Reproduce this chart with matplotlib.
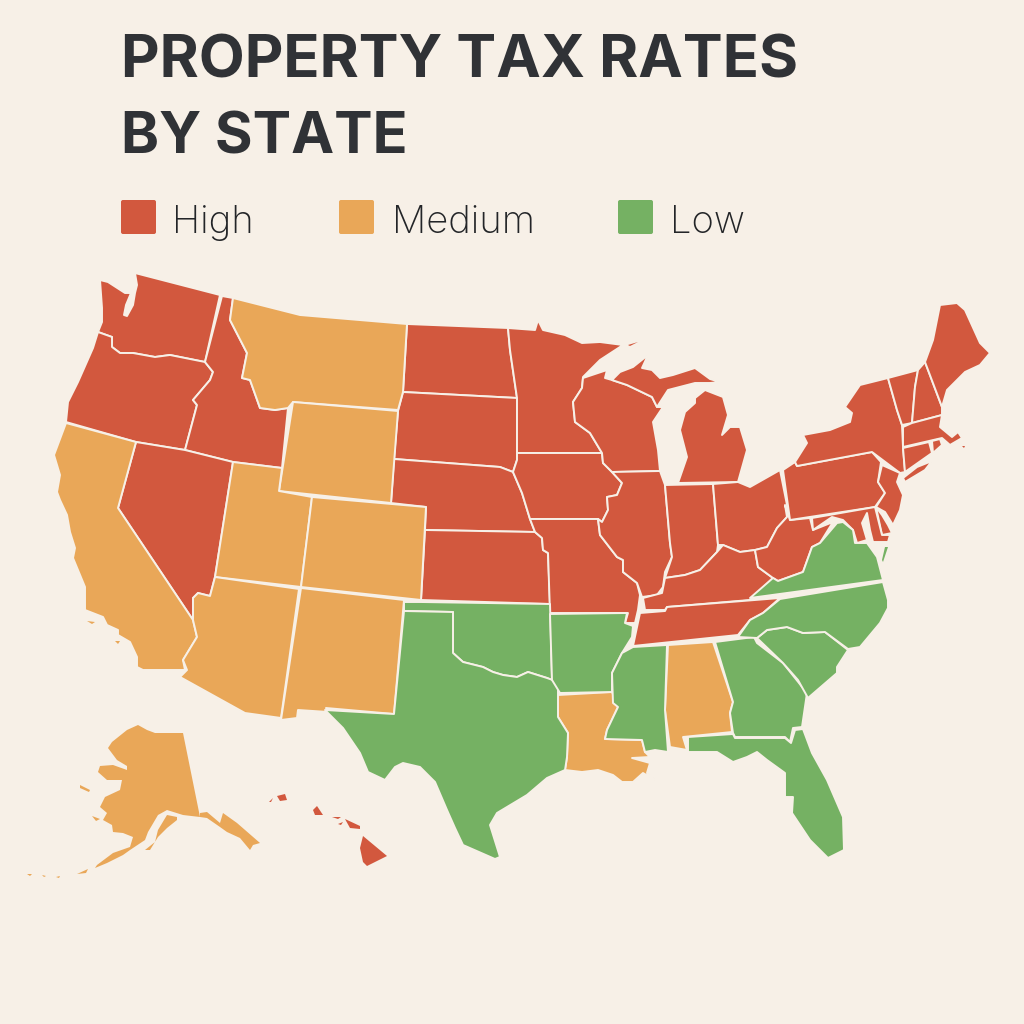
import matplotlib
matplotlib.use("Agg")
import matplotlib.pyplot as plt
from matplotlib.patches import Polygon, FancyBboxPatch

TITLE_LINES = ["PROPERTY TAX RATES", "BY STATE"]
LEVELS = ["High", "Medium", "Low"]
BG = "#F7F0E7"
COLORS = {"High": "#D2583E", "Medium": "#E9A758", "Low": "#75B163"}
TEXT = "#303236"
LABEL_TEXT = "#232528"

# State outlines, in picture pixels
WA = [(135,273),(220,295),(205,362),(170,355),(155,357),(133,353),(120,353),(112,347),(112,337),(98,332),(102,322),(102,308),(100,280),(108,282),(125,293),(131,293),(126,305),(124,315),(127,316),(133,305),(135,293),(137,285)]
OR = [(98,332),(112,337),(112,347),(120,353),(133,353),(155,357),(170,355),(205,362),(213,372),(210,380),(193,400),(197,405),(185,450),(136,442),(66,422),(68,402),(78,382),(93,348)]
ID = [(222,296),(233,298),(230,320),(247,353),(242,378),(250,380),(260,408),(275,410),(288,408),(282,468),(233,462),(185,450),(197,405),(193,400),(210,380),(213,372),(205,362)]
MT = [(233,298),(300,315),(407,324),(403,392),(398,410),(293,402),(288,408),(275,410),(260,408),(250,380),(242,378),(247,353),(230,320)]
WY = [(293,402),(398,411),(391,503),(279,491)]
CA = [(66,423),(136,442),(118,508),(193,620),(197,637),(183,660),(185,670),(143,670),(137,667),(137,657),(130,642),(118,635),(118,630),(107,625),(103,617),(85,610),(85,587),(73,558),(75,548),(70,532),(67,515),(60,500),(57,492),(60,475),(54,455)]
NV = [(136,442),(185,450),(233,462),(215,577),(210,596),(198,593),(193,598),(193,620),(118,508)]
UT = [(233,462),(282,468),(279,491),(312,497),(301,587),(215,577)]
CO = [(312,497),(426,507),(421,600),(301,587)]
AZ = [(215,577),(299,589),(281,718),(245,713),(180,677),(187,670),(183,660),(197,637),(193,620),(193,598),(198,593),(210,596)]
NM = [(301,588),(404,600),(394,714),(326,708),(328,712),(298,710),(297,718),(281,720)]
ND = [(407,324),(508,328),(510,350),(517,398),(403,392)]
SD = [(403,392),(517,398),(517,453),(517,460),(513,472),(500,467),(394,459),(398,411)]
NE = [(394,459),(500,467),(513,472),(522,493),(530,519),(535,532),(425,530),(426,507),(391,503)]
KS = [(425,530),(535,532),(542,538),(543,550),(548,553),(550,604),(421,600)]
OK = [(404,602),(421,602),(550,604),(552,680),(547,678),(528,672),(517,677),(503,675),(493,672),(483,667),(463,662),(453,653),(453,612),(404,611)]
TX = [(404,611),(453,612),(453,653),(463,662),(483,667),(493,672),(503,675),(517,677),(528,672),(547,678),(558,682),(558,717),(568,733),(567,757),(565,770),(547,778),(527,795),(497,813),(490,825),(500,857),(495,859),(463,845),(455,828),(447,810),(435,782),(420,767),(403,763),(395,767),(385,780),(368,772),(360,753),(343,728),(325,710),(394,714)]
MN = [(508,328),(535,330),(538,320),(543,330),(565,335),(582,343),(600,342),(623,345),(600,360),(583,377),(582,388),(573,402),(575,422),(590,433),(602,453),(517,453),(517,398),(510,350)]
IA = [(517,453),(602,453),(603,463),(612,472),(622,483),(617,495),(607,497),(608,510),(602,522),(598,519),(530,519),(522,493),(513,472),(517,460)]
MO = [(530,519),(598,519),(600,535),(617,557),(623,560),(623,572),(637,583),(640,595),(638,610),(635,623),(625,623),(628,613),(550,613),(548,553),(543,550),(542,538),(535,532)]
AR = [(550,614),(627,613),(625,623),(633,626),(632,637),(622,653),(612,673),(612,692),(560,693),(552,680)]
LA = [(558,695),(612,692),(618,707),(607,730),(605,739),(642,740),(645,752),(650,757),(632,758),(650,763),(647,773),(658,782),(643,773),(633,782),(622,782),(613,775),(598,770),(582,772),(565,770),(567,757),(568,733),(558,717)]
WI = [(583,378),(607,370),(605,378),(612,380),(627,385),(652,397),(657,407),(663,407),(653,422),(658,450),(660,471),(612,472),(603,463),(602,453),(590,433),(575,422),(573,402),(582,388)]
IL = [(612,472),(660,471),(665,485),(670,543),(672,557),(665,572),(663,587),(657,595),(642,597),(637,583),(623,572),(623,560),(617,557),(600,535),(598,519),(602,522),(608,510),(607,497),(617,495),(622,483)]
IN = [(665,485),(713,484),(718,545),(717,552),(700,570),(685,575),(665,578),(672,557),(670,543)]
MI_L = [(678,483),(738,482),(747,450),(740,427),(730,427),(722,435),(728,415),(723,397),(705,390),(695,398),(695,403),(685,412),(680,430),(687,457)]
MI_U = [(612,380),(627,385),(652,397),(657,407),(668,390),(695,383),(710,383),(720,382),(710,379),(695,368),(673,375),(660,378),(652,370),(642,368),(648,355),(633,367),(620,372)]
OH = [(713,484),(738,482),(750,487),(780,470),(787,505),(787,517),(777,528),(767,547),(755,550),(740,552),(723,545),(718,545)]
KY = [(643,598),(662,593),(665,578),(685,575),(700,570),(717,552),(723,545),(740,552),(755,550),(758,567),(773,578),(750,600),(667,607),(665,610),(645,610)]
TN = [(640,613),(665,611),(667,607),(780,598),(763,613),(750,620),(738,635),(633,646)]
MS = [(633,647),(667,645),(665,710),(668,752),(655,750),(645,752),(642,740),(605,739),(607,730),(618,707),(613,703),(612,673),(622,653)]
AL = [(668,645),(713,642),(733,702),(730,713),(732,732),(683,737),(687,750),(670,747),(665,710)]
GA = [(715,642),(754,637),(757,643),(783,663),(807,693),(802,727),(793,728),(790,742),(785,737),(735,737),(733,733),(730,713),(733,702)]
FL = [(688,737),(733,734),(735,738),(785,738),(791,743),(795,730),(803,729),(812,753),(827,780),(843,817),(844,850),(828,858),(810,840),(792,813),(793,797),(785,797),(785,773),(767,760),(757,752),(747,757),(733,762),(717,752),(688,752)]
SC = [(757,638),(767,630),(787,627),(803,633),(825,632),(848,650),(837,667),(837,673),(808,698),(798,680),(783,663)]
NC = [(780,599),(883,582),(888,600),(888,608),(880,623),(860,647),(848,649),(825,632),(803,633),(787,627),(767,630),(757,638),(738,637),(750,620),(763,613)]
VA = [(750,598),(773,578),(778,581),(803,572),(812,547),(820,543),(837,523),(843,522),(853,530),(855,543),(867,543),(877,557),(883,580)]
VA_E = [(885,547),(888,547),(883,562),(882,560)]
WV = [(785,505),(790,520),(810,518),(813,530),(833,522),(820,543),(812,547),(803,572),(778,581),(773,578),(758,567),(755,550),(767,547),(777,528),(787,517)]
PA = [(783,470),(795,462),(797,466),(872,452),(881,462),(878,482),(885,493),(875,507),(790,520)]
NY = [(795,462),(807,443),(803,435),(830,430),(850,422),(852,413),(845,407),(860,385),(888,378),(897,410),(902,425),(903,447),(905,472),(900,473),(872,452),(797,466)]
NY_LI = [(903,478),(917,467),(932,461),(925,470),(905,482)]
VT = [(888,378),(918,370),(915,387),(912,423),(902,425),(897,410)]
NH = [(925,362),(942,407),(942,415),(912,423),(915,387),(918,370)]
ME = [(925,362),(933,340),(940,305),(957,303),(965,310),(980,343),(990,353),(980,365),(965,372),(947,390),(942,407)]
MA = [(903,427),(912,423),(942,415),(940,427),(952,437),(958,432),(962,438),(950,445),(942,438),(903,447)]
CT = [(903,448),(929,442),(932,453),(905,472)]
RI = [(932,441),(940,439),(942,445),(933,453)]
NJ = [(882,465),(900,473),(897,482),(903,495),(900,510),(893,525),(885,512),(876,507),(885,493),(878,482)]
DE = [(876,507),(882,515),(888,525),(892,533),(882,535)]
MD = [(812,518),(875,507),(882,535),(890,535),(888,542),(873,542),(870,530),(867,513),(862,523),(867,540),(857,543),(853,530),(843,520),(832,517),(813,530)]

AK = [(138,725),(147,730),(155,733),(177,733),(183,733),(200,817),(183,815),(167,810),(158,815),(148,832),(145,840),(130,850),(123,855),(107,863),(95,868),(97,865),(113,853),(130,847),(133,837),(123,833),(113,832),(112,825),(103,820),(107,813),(100,807),(105,797),(120,790),(122,780),(107,780),(98,772),(100,766),(113,765),(127,770),(127,766),(117,760),(108,748),(112,742),(127,730)]
AK_KENAI = [(177,817),(167,815),(158,830),(155,842),(145,850),(150,850),(158,837),(167,828),(177,820)]
AK_PAN = [(200,813),(207,812),(220,823),(223,813),(237,823),(260,843),(253,845),(250,850),(240,838),(227,832),(220,827),(207,818),(200,817)]
AK_ISL1 = [(80,785),(90,790),(89,792),(80,788)]
AK_ISL2 = [(92,816),(100,819),(96,821)]
AK_ISL3 = [(77,874),(88,869),(86,873)]
AK_ISL4 = [(27,874),(32,874),(30,876)]
AK_ISL5 = [(42,875),(46,876),(44,877)]
AK_ISL6 = [(56,877),(60,876),(59,878)]
CA_ISL1 = [(87,621),(95,622),(92,624)]
CA_ISL2 = [(115,641),(120,641),(118,644)]
MI_ISLE = [(628,345),(638,342),(630,346)]
MA_ISLE = [(962,446),(965,446),(964,448)]
HI_1 = [(277,796),(285,794),(287,800),(280,801)]
HI_2 = [(269,802),(273,798),(271,802)]
HI_3 = [(313,810),(317,806),(323,815),(315,815)]
HI_4 = [(332,817),(341,817),(338,819)]
HI_5 = [(338,824),(343,822),(341,825)]
HI_6 = [(345,819),(360,826),(360,829),(350,828)]
HI_7 = [(363,836),(387,856),(367,866),(363,862),(360,848)]

HIGH = [WA, OR, ID, NV, ND, SD, NE, KS, MN, IA, MO, WI, IL, IN, MI_L, MI_U, OH, KY, TN, WV, PA, NY, NY_LI,
        VT, NH, ME, MA, CT, RI, NJ, DE, MD]
MEDIUM = [MT, WY, CA, UT, CO, AZ, NM, LA, AL]
LOW = [OK, TX, AR, MS, GA, FL, SC, NC, VA]
HIGH_SMALL = [HI_1, HI_2, HI_3, HI_4, HI_5, HI_6, HI_7, MI_ISLE, MA_ISLE]
MEDIUM_SMALL = [AK, AK_KENAI, AK_PAN, AK_ISL1, AK_ISL2, AK_ISL3, AK_ISL4, AK_ISL5, AK_ISL6, CA_ISL1, CA_ISL2]
LOW_SMALL = [VA_E]
GROUPS = {"High": HIGH, "Medium": MEDIUM, "Low": LOW}
GROUPS_SMALL = {"High": HIGH_SMALL, "Medium": MEDIUM_SMALL, "Low": LOW_SMALL}

plt.rcParams["font.family"] = ["Inter", "DejaVu Sans"]
fig = plt.figure(figsize=(10.24, 10.24), dpi=100, facecolor=BG)
ax = fig.add_axes([0, 0, 1, 1])
ax.set_xlim(0, 1024)
ax.set_ylim(1024, 0)
ax.axis("off")

for level, shapes in GROUPS.items():
    for shape in shapes:
        ax.add_patch(Polygon(shape, closed=True, facecolor=COLORS[level],
                             edgecolor=BG, linewidth=1.4, joinstyle="round"))
for level, shapes in GROUPS_SMALL.items():
    for shape in shapes:
        ax.add_patch(Polygon(shape, closed=True, facecolor=COLORS[level], edgecolor="none"))

ax.text(121, 78, TITLE_LINES[0], fontsize=43, fontweight="bold", color=TEXT, va="baseline")
ax.text(121, 154, TITLE_LINES[1], fontsize=41.5, fontweight="bold", color=TEXT, va="baseline")

swatch_x = [120, 338, 617]
label_x = [172, 392, 670]
for level, sx, lx in zip(LEVELS, swatch_x, label_x):
    ax.add_patch(FancyBboxPatch((sx + 1, 200), 35, 34, boxstyle="round,pad=0,rounding_size=2",
                                facecolor=COLORS[level], edgecolor="none"))
    ax.text(lx, 233, level, fontsize=27.5, fontweight="light", color=LABEL_TEXT, va="baseline")

fig.savefig("out.png", dpi=100, facecolor=BG)
